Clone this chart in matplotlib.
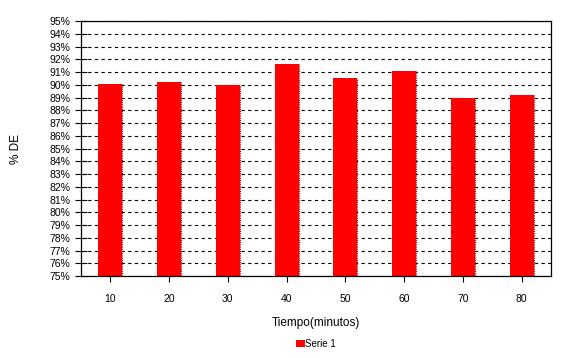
import matplotlib
matplotlib.use('Agg')
import matplotlib.pyplot as plt
from matplotlib.ticker import MultipleLocator, FuncFormatter

plt.rcParams['font.family'] = ['Liberation Sans', 'DejaVu Sans']

# data
tiempo = [10, 20, 30, 40, 50, 60, 70, 80]
de_pct = [90.1, 90.25, 89.95, 91.6, 90.55, 91.1, 88.95, 89.2]

fig = plt.figure(figsize=(5.76, 3.58), dpi=100)
ax = fig.add_axes([0.1406, 0.229, 0.8160, 0.712])

ax.set_axisbelow(True)
ax.yaxis.grid(True, color='black', linestyle=(0, (3, 3)), linewidth=0.8)

ax.bar(tiempo, [v - 75 for v in de_pct], bottom=75, width=4.1,
       color='#ff0000', edgecolor='none', label='Serie 1', zorder=2)
# dark shadow on right edge of each bar
for t, v in zip(tiempo, de_pct):
    ax.plot([t + 2.05, t + 2.05], [75, v], color='#a00000',
            linestyle=(0, (1, 1)), linewidth=0.8, zorder=3)

ax.set_xlim(5, 85)
ax.set_ylim(75, 95)
ax.set_xticks(tiempo)
ax.yaxis.set_major_locator(MultipleLocator(1))
ax.yaxis.set_major_formatter(FuncFormatter(lambda v, p: '%d%%' % round(v)))
ax.tick_params(direction='inout', length=8, width=0.8, labelsize=7.5,
               color='black')
ax.tick_params(axis='x', pad=9)
for s in ax.spines.values():
    s.set_linewidth(0.9)

ax.set_xlabel('Tiempo(minutos)', fontsize=8.5, labelpad=9)
ax.set_ylabel('% DE', fontsize=8.5, labelpad=20)

ax.legend(loc='center', bbox_to_anchor=(0.5, -0.265), frameon=False,
          fontsize=7, handlelength=0.9, handleheight=0.7, handletextpad=0.1)

fig.savefig('out.png', dpi=100)
